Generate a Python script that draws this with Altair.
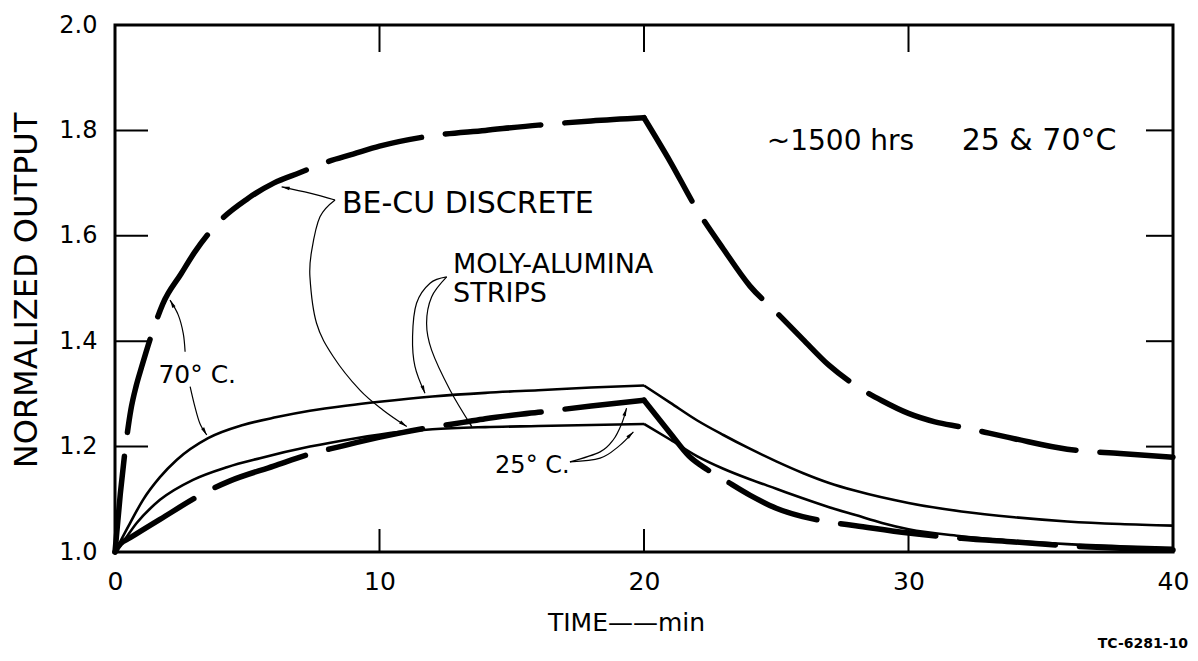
import math
import altair as alt
import pandas as pd

# ---------------- data ----------------
# time in minutes, normalized output
# BE-CU discrete, 70 C (heavy dashed, upper curve)
becu70_rise_x = [0, 0.2, 0.4, 0.6, 0.8, 1.0, 1.5, 1.8, 2.5, 3.0, 4.0, 5.0, 6.0, 7.0, 8.0, 9.0, 10, 12, 14, 16, 18, 20]
becu70_rise_y = [1.0, 1.11, 1.2, 1.27, 1.315, 1.35, 1.43, 1.47, 1.528, 1.568, 1.63, 1.67, 1.70, 1.72, 1.74, 1.755, 1.77, 1.79, 1.80, 1.81, 1.818, 1.824]
becu70_fall_x = [20, 21, 22, 23, 24, 25, 26, 27, 28, 29, 30, 31, 32, 34, 36, 38, 40]
becu70_fall_y = [1.824, 1.74, 1.65, 1.575, 1.505, 1.455, 1.404, 1.354, 1.316, 1.287, 1.263, 1.247, 1.237, 1.215, 1.195, 1.187, 1.18]

# BE-CU discrete, 25 C (heavy dashed, lower curve)
becu25_rise_x = [0, 0.2, 0.57, 1.7, 3.6, 4.35, 6, 7.37, 8.5, 9.15, 10.8, 12, 13.16, 14, 16, 18, 20]
becu25_rise_y = [1.0, 1.015, 1.027, 1.062, 1.118, 1.135, 1.163, 1.186, 1.2, 1.208, 1.226, 1.237, 1.246, 1.253, 1.265, 1.277, 1.288]
becu25_fall_x = [20, 21, 21.7, 22.4, 23, 24, 25, 26, 27, 28, 30, 32, 34, 36, 38, 40]
becu25_fall_y = [1.288, 1.225, 1.182, 1.156, 1.138, 1.108, 1.083, 1.067, 1.057, 1.05, 1.036, 1.026, 1.019, 1.012, 1.007, 1.004]

# Moly-alumina strips, 70 C (solid, upper)
moly70_rise_x = [0, 0.2, 0.57, 1.06, 1.7, 2.34, 3.52, 4.84, 6.12, 7.37, 8.8, 10, 12, 14, 16, 18, 20]
moly70_rise_y = [1.0, 1.02, 1.055, 1.099, 1.142, 1.175, 1.216, 1.241, 1.256, 1.268, 1.278, 1.285, 1.295, 1.302, 1.307, 1.312, 1.316]
moly70_fall_x = [20, 21, 22, 23, 24, 25, 26, 27, 28, 30, 32, 34, 36, 38, 40]
moly70_fall_y = [1.316, 1.283, 1.25, 1.222, 1.196, 1.172, 1.15, 1.131, 1.116, 1.093, 1.077, 1.066, 1.058, 1.053, 1.05]

# Moly-alumina strips, 25 C (solid, lower)
moly25_rise_x = [0, 0.2, 0.82, 1.7, 2.95, 4.23, 5.48, 7.37, 9, 10.8, 12, 14, 16, 18, 20]
moly25_rise_y = [1.0, 1.012, 1.055, 1.099, 1.137, 1.161, 1.178, 1.2, 1.215, 1.228, 1.233, 1.237, 1.239, 1.241, 1.243]
moly25_fall_x = [20, 21, 22, 23, 24, 25, 26, 27, 28, 29, 30, 32, 34, 36, 38, 40]
moly25_fall_y = [1.243, 1.213, 1.182, 1.158, 1.138, 1.12, 1.102, 1.085, 1.07, 1.055, 1.043, 1.03, 1.021, 1.015, 1.011, 1.008]

# axis ticks
x_ticks = [0, 10, 20, 30, 40]
y_ticks = [1.0, 1.2, 1.4, 1.6, 1.8, 2.0]
x_inner_ticks = [10, 20, 30]
y_inner_ticks = [1.2, 1.4, 1.6, 1.8]

# annotation labels (text, x, y baseline, font size)
label_text = ["BE-CU DISCRETE", "MOLY-ALUMINA", "STRIPS", "70\u00b0 C.", "25\u00b0 C.", "~1500 hrs", "25 & 70\u00b0C"]
label_x = [8.58, 12.78, 12.78, 1.64, 14.37, 24.64, 32.01]
label_y = [1.643, 1.530, 1.474, 1.321, 1.149, 1.763, 1.763]
label_size = [30, 27, 27, 25, 24, 28, 30]

# leader lines (annotation pointers), each ending in an arrowhead
lead_becu_a_x = [8.32, 7.37, 6.30]
lead_becu_a_y = [1.668, 1.681, 1.693]
lead_becu_b_x = [8.32, 7.75, 7.44, 7.37, 7.62, 8.25, 9.26, 10.14, 11.03]
lead_becu_b_y = [1.668, 1.636, 1.573, 1.522, 1.434, 1.371, 1.307, 1.269, 1.238]
lead_moly_a_x = [12.54, 11.91, 11.4, 11.25, 11.34, 11.72]
lead_moly_a_y = [1.522, 1.51, 1.472, 1.409, 1.352, 1.301]
lead_moly_b_x = [12.54, 11.97, 11.78, 11.97, 12.67, 13.49]
lead_moly_b_y = [1.522, 1.484, 1.434, 1.383, 1.307, 1.238]
lead_70_a_x = [2.65, 2.58, 2.39, 2.08]
lead_70_a_y = [1.38, 1.415, 1.45, 1.478]
lead_70_b_x = [2.84, 3.02, 3.21, 3.47]
lead_70_b_y = [1.314, 1.276, 1.244, 1.222]
lead_25_a_x = [17.2, 18.34, 18.84, 19.16, 19.34]
lead_25_a_y = [1.171, 1.19, 1.213, 1.244, 1.273]
lead_25_b_x = [17.2, 18.34, 19.03, 19.6]
lead_25_b_y = [1.171, 1.178, 1.2, 1.228]

# ---------------- build tables ----------------
W, H = 1058, 527
X_DOM = [0, 40]
Y_DOM = [1.0, 2.0]


def seg(name, style, xs, ys):
    return pd.DataFrame({"t": xs, "v": ys, "seg": name, "style": style})


curves = pd.concat([
    seg("becu70_rise", "dash", becu70_rise_x, becu70_rise_y),
    seg("becu70_fall", "dash", becu70_fall_x, becu70_fall_y),
    seg("becu25_rise", "dash", becu25_rise_x, becu25_rise_y),
    seg("becu25_fall", "dash", becu25_fall_x, becu25_fall_y),
    seg("moly70_rise", "solid", moly70_rise_x, moly70_rise_y),
    seg("moly70_fall", "solid", moly70_fall_x, moly70_fall_y),
    seg("moly25_rise", "solid", moly25_rise_x, moly25_rise_y),
    seg("moly25_fall", "solid", moly25_fall_x, moly25_fall_y),
], ignore_index=True)

leaders_src = {
    "becu_a": (lead_becu_a_x, lead_becu_a_y),
    "becu_b": (lead_becu_b_x, lead_becu_b_y),
    "moly_a": (lead_moly_a_x, lead_moly_a_y),
    "moly_b": (lead_moly_b_x, lead_moly_b_y),
    "t70_a": (lead_70_a_x, lead_70_a_y),
    "t70_b": (lead_70_b_x, lead_70_b_y),
    "t25_a": (lead_25_a_x, lead_25_a_y),
    "t25_b": (lead_25_b_x, lead_25_b_y),
}
lead_rows, head_rows = [], []
for name, (xs, ys) in leaders_src.items():
    for i, (a, b) in enumerate(zip(xs, ys)):
        lead_rows.append({"t": a, "v": b, "lead": name, "i": i})
    dx = (xs[-1] - xs[-2]) * W / (X_DOM[1] - X_DOM[0])
    up = (ys[-1] - ys[-2]) * H / (Y_DOM[1] - Y_DOM[0])
    ang = math.degrees(math.atan2(dx, up)) % 360
    head_rows.append({"t": xs[-1], "v": ys[-1], "ang": ang})
leaders = pd.DataFrame(lead_rows)
heads = pd.DataFrame(head_rows)

labels = pd.DataFrame({"t": label_x, "v": label_y, "txt": label_text, "fs": label_size})

FONT = "DejaVu Sans"
xscale = alt.Scale(domain=X_DOM, nice=False, zero=False)
yscale = alt.Scale(domain=Y_DOM, nice=False, zero=False)

X_AXIS = alt.Axis(
    values=x_ticks, title="TIME\u2014\u2014min", labelFontSize=25, labelFont=FONT,
    tickSize=0, domain=False, grid=False, labelPadding=17, labelColor="black", labelFlush=False,
    titleFont=FONT, titleFontSize=25, titleFontWeight="normal", titleColor="black",
    titleX=511, titleY=58, titleAnchor="middle")
Y_AXIS = alt.Axis(
    values=y_ticks, format=".1f", title="NORMALIZED OUTPUT", labelFontSize=24, labelFont=FONT,
    tickSize=0, domain=False, grid=False, labelPadding=18, labelColor="black", labelFlush=False,
    titleFont=FONT, titleFontSize=32, titleFontWeight="normal", titleColor="black",
    titleAngle=270, titleBaseline="middle", titleX=-89, titleY=265)


def X(field="t:Q"):
    return alt.X(field, scale=xscale, axis=X_AXIS)


def Y(field="v:Q"):
    return alt.Y(field, scale=yscale, axis=Y_AXIS)


dash_lines = alt.Chart(curves).transform_filter(alt.datum.style == "dash").mark_line(
    color="black", strokeWidth=5.5, strokeDash=[96, 24], strokeCap="round", interpolate="monotone"
).encode(x=X(), y=Y(), detail="seg:N")

solid_lines = alt.Chart(curves).transform_filter(alt.datum.style == "solid").mark_line(
    color="black", strokeWidth=2.6, interpolate="monotone"
).encode(x=X(), y=Y(), detail="seg:N")

leader_lines = alt.Chart(leaders).mark_line(
    color="black", strokeWidth=1.2, interpolate="cardinal"
).encode(x=X(), y=Y(), detail="lead:N", order=alt.Order("i:Q"))

arrow_heads = alt.Chart(heads).mark_point(
    shape="M0,0L0.38,1.7L-0.38,1.7Z", filled=True, color="black", opacity=1, size=90
).encode(x=X(), y=Y(), angle=alt.Angle("ang:Q", scale=None))

texts = alt.Chart(labels).mark_text(
    align="left", baseline="alphabetic", font=FONT, color="black"
).encode(x=X(), y=Y(), text="txt:N", size=alt.Size("fs:Q", scale=None))

code_label = alt.Chart(pd.DataFrame({"txt": ["TC-6281-10"]})).mark_text(
    align="right", baseline="alphabetic", font=FONT, fontSize=14, fontWeight="bold", color="black"
).encode(text="txt:N", x=alt.value(W + 15), y=alt.value(H + 96))

yt = pd.DataFrame({"v": y_inner_ticks})
xt = pd.DataFrame({"t": x_inner_ticks})
tick_left = alt.Chart(yt).mark_rule(color="black", strokeWidth=2).encode(
    y=Y(), x=alt.value(0), x2=alt.value(33))
tick_right = alt.Chart(yt).mark_rule(color="black", strokeWidth=2).encode(
    y=Y(), x=alt.value(W - 27), x2=alt.value(W))
tick_bottom = alt.Chart(xt).mark_rule(color="black", strokeWidth=2).encode(
    x=X(), y=alt.value(H - 23), y2=alt.value(H))
tick_top = alt.Chart(xt).mark_rule(color="black", strokeWidth=2).encode(
    x=X(), y=alt.value(0), y2=alt.value(27))

chart = alt.layer(
    dash_lines, solid_lines, leader_lines, arrow_heads, texts, code_label,
    tick_left, tick_right, tick_bottom, tick_top,
).properties(
    width=W, height=H,
    autosize=alt.AutoSizeParams(type="none"),
    padding={"left": 107, "top": 17, "right": 17, "bottom": 98},
    background="white",
).configure_view(
    stroke="black", strokeWidth=3
)

chart.save("out.html", embed_options={"renderer": "svg", "actions": False})
